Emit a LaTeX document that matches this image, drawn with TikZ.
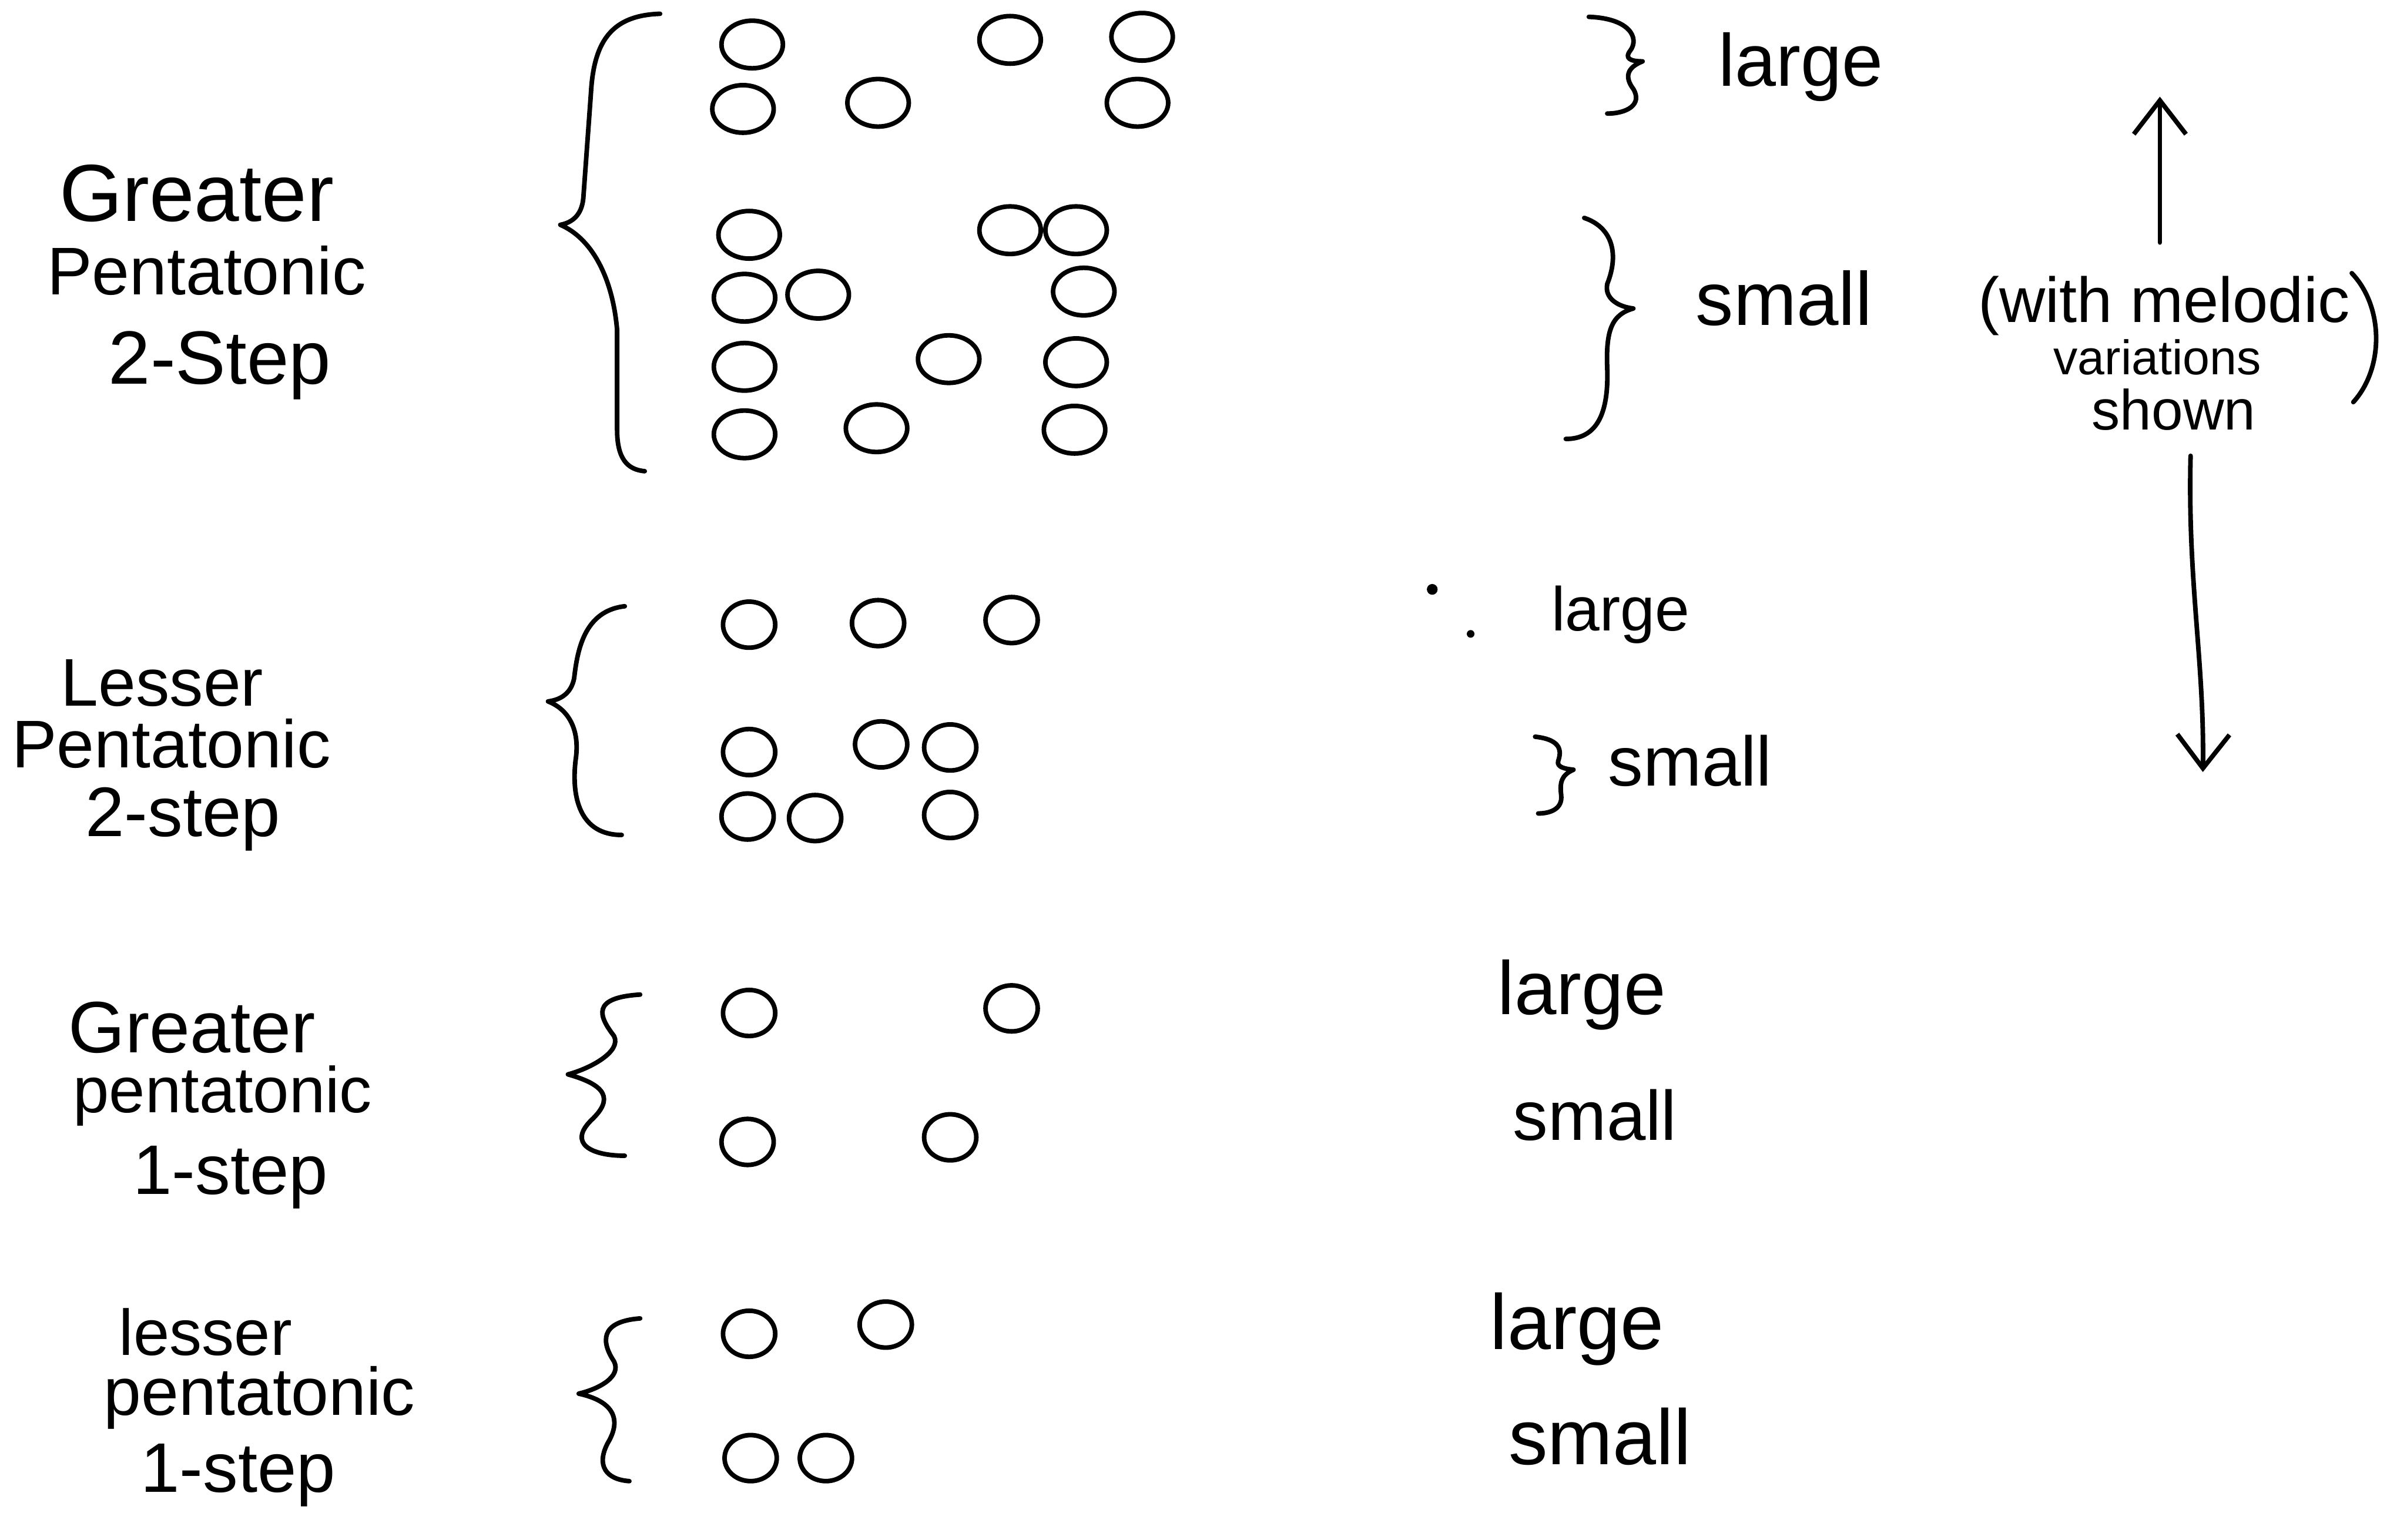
\documentclass[tikz,border=0pt]{standalone}
\usepackage{fontspec}
\setmainfont{Liberation Sans}
\usetikzlibrary{
    positioning,
    shapes.geometric,
    arrows.meta
}
\newcommand{\penfont}[1]{\fontsize{#1}{#1}\selectfont}
\tikzset{
    pen/.style={line width=0.85pt, line cap=round, line join=round},
    bignote/.style={draw, pen, ellipse, inner sep=0pt,
        minimum width=0.40cm, minimum height=0.31cm},
    note/.style={draw, pen, ellipse, inner sep=0pt,
        minimum width=0.34cm, minimum height=0.30cm},
    word/.style={inner sep=0pt, anchor=base west},
    barb/.style={pen, -{Straight Barb[length=0.22cm, width=0.34cm]}}
}

\begin{document}
\begin{tikzpicture}
\useasboundingbox[fill=white] (0,0) rectangle (15.68,-10.03);

% scale names, left column
\node[word, font=\penfont{15}]   (gp2-a) at (0.38,-1.44) {Greater};
\node[word, font=\penfont{12.5}] (gp2-b) at (0.30,-1.92) {Pentatonic};
\node[word, font=\penfont{14}]   (gp2-c) at (0.70,-2.50) {2-Step};

\node[word, font=\penfont{12.5}] (lp2-a) at (0.39,-4.60) {Lesser};
\node[word, font=\penfont{12.5}] (lp2-b) at (0.07,-5.00) {Pentatonic};
\node[word, font=\penfont{13}]   (lp2-c) at (0.55,-5.45) {2-step};

\node[word, font=\penfont{13.5}] (gp1-a) at (0.44,-6.86) {Greater};
\node[word, font=\penfont{12}]   (gp1-b) at (0.47,-7.25) {pentatonic};
\node[word, font=\penfont{13}]   (gp1-c) at (0.86,-7.78) {1-step};

\node[word, font=\penfont{12}]   (lp1-a) at (0.77,-8.83) {lesser};
\node[word, font=\penfont{12.5}] (lp1-b) at (0.67,-9.22) {pentatonic};
\node[word, font=\penfont{13}]   (lp1-c) at (0.91,-9.72) {1-step};

% left braces
\draw[pen] (4.30,-0.09) .. controls (4.00,-0.10) and (3.87,-0.25) .. (3.85,-0.60)
    -- (3.80,-1.29) .. controls (3.79,-1.40) and (3.73,-1.45) .. (3.65,-1.465)
    .. controls (3.85,-1.55) and (3.99,-1.80) .. (4.02,-2.15)
    -- (4.02,-2.80) .. controls (4.02,-2.98) and (4.08,-3.06) .. (4.20,-3.07);
\draw[pen] (4.07,-3.95) .. controls (3.80,-3.98) and (3.76,-4.25) .. (3.74,-4.42)
    .. controls (3.72,-4.52) and (3.65,-4.56) .. (3.57,-4.57)
    .. controls (3.70,-4.62) and (3.78,-4.75) .. (3.75,-4.95)
    .. controls (3.72,-5.20) and (3.78,-5.44) .. (4.05,-5.44);
\draw[pen] (4.17,-6.48) .. controls (3.85,-6.50) and (3.90,-6.62) .. (4.00,-6.75)
    .. controls (4.05,-6.85) and (3.85,-6.96) .. (3.70,-7.00)
    .. controls (3.95,-7.07) and (4.00,-7.16) .. (3.85,-7.30)
    .. controls (3.70,-7.45) and (3.85,-7.53) .. (4.07,-7.53);
\draw[pen] (4.17,-8.59) .. controls (3.90,-8.61) and (3.92,-8.75) .. (4.00,-8.87)
    .. controls (4.05,-8.97) and (3.90,-9.05) .. (3.77,-9.08)
    .. controls (4.00,-9.13) and (4.05,-9.25) .. (3.96,-9.40)
    .. controls (3.88,-9.55) and (3.95,-9.64) .. (4.10,-9.65);

% notes
\foreach \x/\y [count=\i] in {4.90/-0.29, 6.58/-0.26, 7.44/-0.24,
        4.84/-0.71, 5.72/-0.67, 7.41/-0.67,
        4.88/-1.53, 6.58/-1.50, 7.01/-1.50,
        4.85/-1.94, 5.33/-1.92, 7.06/-1.90,
        4.85/-2.39, 6.18/-2.34, 7.01/-2.36,
        4.85/-2.83, 5.71/-2.79, 7.00/-2.80}
    \node[bignote] (gp2-n\i) at (\x,\y) {};
\foreach \x/\y [count=\i] in {4.88/-4.07, 5.72/-4.06, 6.59/-4.04,
        4.88/-4.90, 5.74/-4.85, 6.19/-4.87,
        4.87/-5.32, 5.31/-5.33, 6.19/-5.31}
    \node[note] (lp2-n\i) at (\x,\y) {};
\foreach \x/\y [count=\i] in {4.88/-6.60, 6.59/-6.57, 4.87/-7.44, 6.19/-7.41}
    \node[note] (gp1-n\i) at (\x,\y) {};
\foreach \x/\y [count=\i] in {4.88/-8.69, 5.77/-8.63, 4.89/-9.50, 5.38/-9.50}
    \node[note] (lp1-n\i) at (\x,\y) {};

% right braces and sizes
\draw[pen] (10.35,-0.11) .. controls (10.62,-0.12) and (10.68,-0.25) .. (10.62,-0.33)
    .. controls (10.58,-0.38) and (10.62,-0.40) .. (10.70,-0.40)
    .. controls (10.60,-0.44) and (10.58,-0.50) .. (10.64,-0.58)
    .. controls (10.70,-0.68) and (10.60,-0.74) .. (10.47,-0.74);
\draw[pen] (10.32,-1.42) .. controls (10.50,-1.48) and (10.55,-1.65) .. (10.47,-1.85)
    .. controls (10.45,-1.95) and (10.55,-2.00) .. (10.64,-2.01)
    .. controls (10.50,-2.05) and (10.46,-2.15) .. (10.47,-2.40)
    .. controls (10.48,-2.70) and (10.40,-2.86) .. (10.20,-2.86);
\draw[pen] (10.00,-4.80) .. controls (10.18,-4.82) and (10.17,-4.90) .. (10.15,-4.96)
    .. controls (10.14,-5.00) and (10.20,-5.01) .. (10.25,-5.015)
    .. controls (10.17,-5.05) and (10.16,-5.10) .. (10.17,-5.18)
    .. controls (10.18,-5.27) and (10.10,-5.30) .. (10.02,-5.30);
\fill (9.33,-3.84) circle (0.035);
\fill (9.58,-4.13) circle (0.025);

\node[word, font=\penfont{13.7}] (gp2-large) at (11.19,-0.56) {large};
\node[word, font=\penfont{14}]   (gp2-small) at (11.04,-2.12) {small};
\node[word, font=\penfont{11.5}] (lp2-large) at (10.10,-4.11) {large};
\node[word, font=\penfont{13}]   (lp2-small) at (10.47,-5.12) {small};
\node[word, font=\penfont{14}]   (gp1-large) at (9.75,-6.61) {large};
\node[word, font=\penfont{13}]   (gp1-small) at (9.85,-7.43) {small};
\node[word, font=\penfont{14.5}] (lp1-large) at (9.70,-8.79) {large};
\node[word, font=\penfont{14.5}] (lp1-small) at (9.82,-9.54) {small};

% melodic variations remark
\node[word, font=\penfont{11.8}] (remark-a) at (12.88,-2.10) {(with melodic};
\node[word, font=\penfont{9}]    (remark-b) at (13.37,-2.44) {variations};
\node[word, font=\penfont{10.5}] (remark-c) at (13.62,-2.80) {shown};
\draw[pen] (15.32,-1.78) .. controls (15.53,-2.00) and (15.53,-2.40) .. (15.33,-2.62);

\coordinate (up-from) at (14.07,-1.58);
\coordinate (up-to) at (14.07,-0.63);
\coordinate (down-from) at (14.27,-2.97);
\coordinate (down-to) at (14.35,-5.03);
\draw[barb] (up-from) -- (up-to);
\draw[barb] (down-from) .. controls (14.25,-3.80) and (14.36,-4.30) .. (down-to);

\end{tikzpicture}
\end{document}
